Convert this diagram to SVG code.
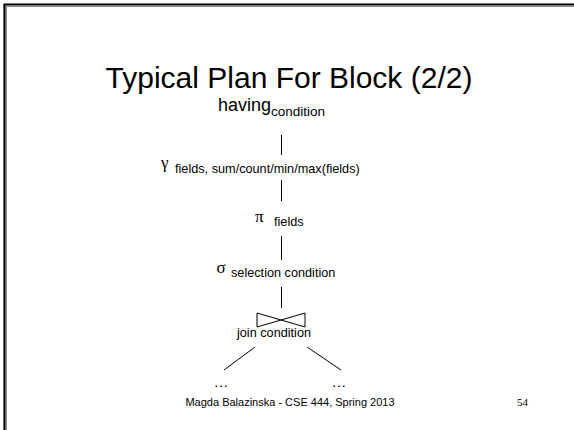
<svg xmlns="http://www.w3.org/2000/svg" width="574" height="430" viewBox="0 0 574 430">
<style>
text{font-family:"Liberation Sans",Arial,sans-serif;fill:#000}
.sym{font-family:"Liberation Serif","DejaVu Serif",serif}
.sub{font-size:12.7px}
.edge{stroke:#000;stroke-width:1;fill:none}
</style>
<rect width="574" height="430" fill="#fff"/>
<g id="frame">
<path d="M4.5,430 V4.5 H574" fill="none" stroke="#000" stroke-width="2.2"/>
<path d="M6.5,430 V6.5 H574" fill="none" stroke="#888" stroke-width="1"/>
</g>
<text id="title" x="289" y="88" font-size="30" text-anchor="middle">Typical Plan For Block (2/2)</text>
<g id="having"><text x="218" y="111" font-size="18">having<tspan font-size="13.5" dy="5">condition</tspan></text></g>
<g id="gamma"><text class="sym" x="161" y="168" font-size="17">γ</text><text class="sub" x="175" y="173">fields, sum/count/min/max(fields)</text></g>
<g id="pi"><text class="sym" x="255" y="222" font-size="17">π</text><text class="sub" x="274" y="226" font-size="12">fields</text></g>
<g id="sigma"><text class="sym" x="216.5" y="273" font-size="17">σ</text><text class="sub" x="231" y="277">selection condition</text></g>
<g id="join"><path class="edge" d="M257,313 V327 L305,313 V327 Z"/><text class="sub" x="274" y="337" text-anchor="middle">join condition</text></g>
<g id="left"><text x="221" y="387" font-size="15" text-anchor="middle">…</text></g>
<g id="right"><text x="339" y="387" font-size="15" text-anchor="middle">…</text></g>
<g id="connectors">
<line class="edge" x1="281.5" y1="135" x2="281.5" y2="155"/>
<line class="edge" x1="281.5" y1="180" x2="281.5" y2="201"/>
<line class="edge" x1="281.5" y1="236" x2="281.5" y2="260"/>
<line class="edge" x1="281.5" y1="287" x2="281.5" y2="308"/>
<line class="edge" x1="255" y1="347" x2="224" y2="370"/>
<line class="edge" x1="307" y1="347" x2="341" y2="370"/>
</g>
<text id="footer" x="290" y="406" font-size="11" text-anchor="middle">Magda Balazinska - CSE 444, Spring 2013</text>
<text id="page" class="sym" x="517" y="406" font-size="11">54</text>
</svg>
